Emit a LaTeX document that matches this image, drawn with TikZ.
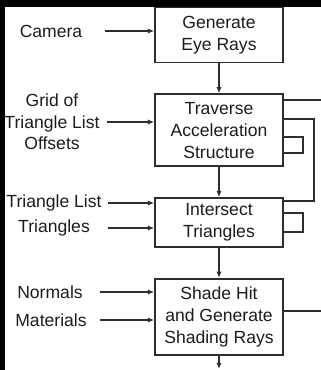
\documentclass[tikz,border=0pt]{standalone}
\usepackage{fontspec}
\setmainfont{Liberation Sans}
\usetikzlibrary{arrows.meta, positioning, calc}
\definecolor{LineDark}{HTML}{2E2E2E}
\definecolor{TextDark}{HTML}{1C1C1C}

\begin{document}
\begin{tikzpicture}[
        x=0.02cm, y=-0.02cm,
        node distance=0.6cm,
        stage/.style={rectangle, draw=LineDark, line width=1pt, fill=white, minimum width=2.56cm, align=center, inner sep=1pt, font=\fontsize{10}{12.5}\selectfont, text=TextDark},
        inlabel/.style={align=center, inner sep=0pt, font=\fontsize{10}{12.2}\selectfont, text=TextDark},
        arrow/.style={-{Latex[length=3.5pt, width=3pt]}, line width=0.8pt, LineDark},
        wire/.style={line width=0.8pt, LineDark}
      ]
        % Frame
        \useasboundingbox (0,0) rectangle (321,370);
        \fill[black] (0,0) rectangle (321,7);
        \fill[black] (0,0) rectangle (5,370);

        % Nodes
        \node[stage, minimum height=1.1cm] (eyerays) at (219,35) {Generate \\ Eye Rays};
        \node[stage, minimum height=1.44cm, below=of eyerays] (traverse) {Traverse \\ Acceleration \\ Structure};
        \node[stage, minimum height=0.98cm, below=of traverse] (intersect) {Intersect \\ Triangles};
        \node[stage, minimum height=1.52cm, below=of intersect] (shade) {Shade Hit \\ and Generate \\ Shading Rays};

        % Inputs
        \node[inlabel] (camera) at (51,31) {Camera};
        \node[inlabel] (grid) at (52,122) {Grid of \\ Triangle List \\ Offsets};
        \node[inlabel] (trilist) at (54,203) {Triangle List};
        \node[inlabel] (tris) at (54,228) {Triangles};
        \node[inlabel] (normals) at (50,292) {Normals};
        \node[inlabel] (materials) at (51,320) {Materials};

        \coordinate (camin) at (105,31);
        \coordinate (gridin) at (107,122);
        \coordinate (trilistin) at (108,203);
        \coordinate (trisin) at (108,228);
        \coordinate (normin) at (100,292);
        \coordinate (matin) at (100,320);

        % Edges
        \draw[arrow] (camin) -- (camin -| eyerays.west);
        \draw[arrow] (gridin) -- (gridin -| traverse.west);
        \draw[arrow] (trilistin) -- (trilistin -| intersect.west);
        \draw[arrow] (trisin) -- (trisin -| intersect.west);
        \draw[arrow] (normin) -- (normin -| shade.west);
        \draw[arrow] (matin) -- (matin -| shade.west);

        \draw[arrow] (eyerays) -- (traverse);
        \draw[arrow] (traverse) -- (intersect);
        \draw[arrow] (intersect) -- (shade);
        \coordinate (outlet) at (219,369);
        \draw[arrow] (shade) -- (outlet);

        % Right side
        \coordinate (travout) at (321,100);
        \draw[wire] (travout -| traverse.east) -- (travout);
        \coordinate (fbtop) at (314,119);
        \coordinate (fbbot) at (314,201);
        \draw[wire] (fbtop -| traverse.east) -- (fbtop) -- (fbbot) -- (fbbot -| intersect.east);
        \coordinate (looptra) at (303,137);
        \coordinate (looptrb) at (303,153);
        \draw[wire] (looptra -| traverse.east) -- (looptra) -- (looptrb) -- (looptrb -| traverse.east);
        \coordinate (loopina) at (303,213);
        \coordinate (loopinb) at (303,232);
        \draw[wire] (loopina -| intersect.east) -- (loopina) -- (loopinb) -- (loopinb -| intersect.east);
        \coordinate (shadeout) at (321,311);
        \draw[wire] (shadeout -| shade.east) -- (shadeout);
      \end{tikzpicture}
\end{document}
